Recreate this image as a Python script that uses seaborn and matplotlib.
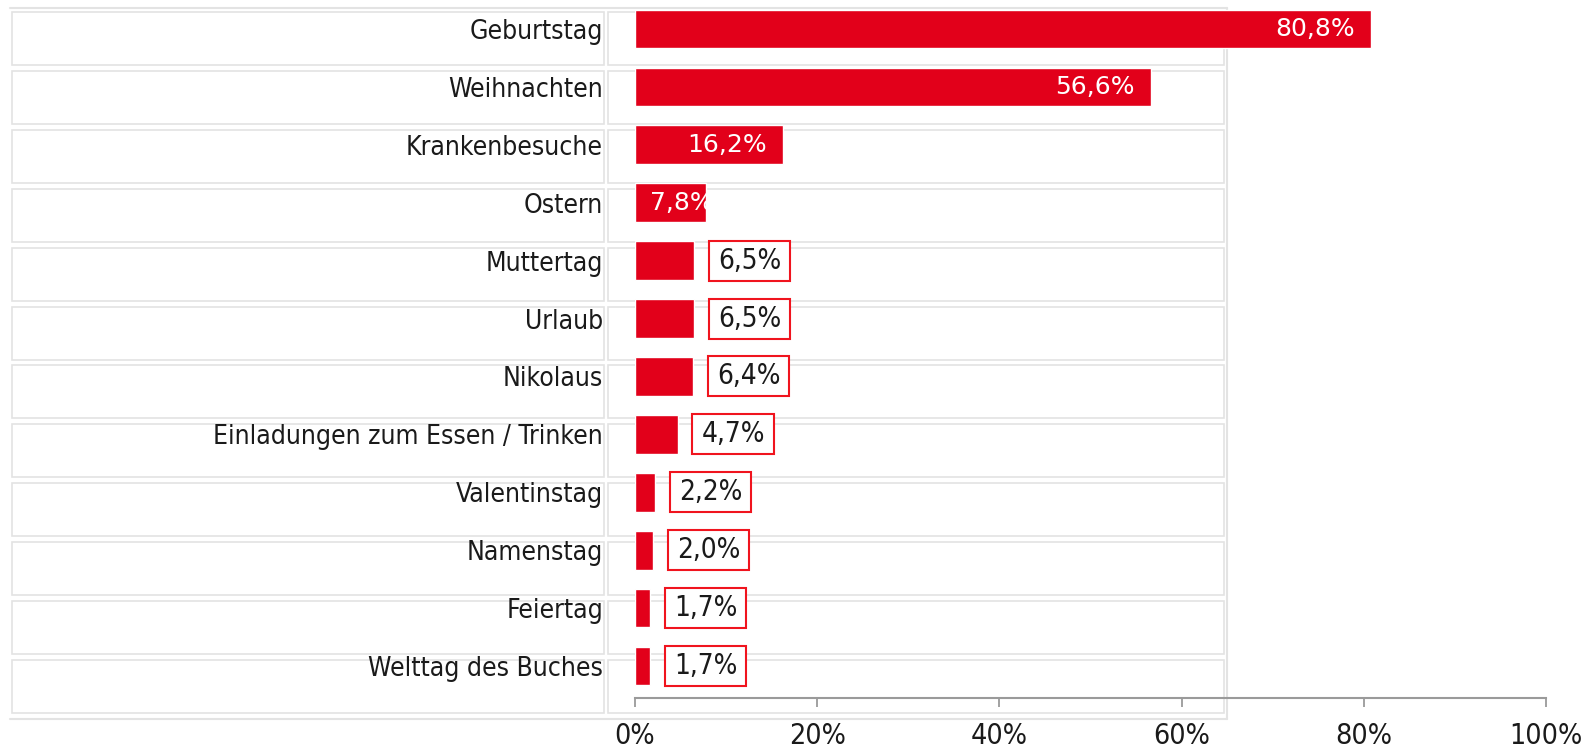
import matplotlib
matplotlib.use("Agg")
import matplotlib.pyplot as plt
from matplotlib.patches import Rectangle
import seaborn as sns

# data
categories = ["Geburtstag", "Weihnachten", "Krankenbesuche", "Ostern", "Muttertag",
              "Urlaub", "Nikolaus", "Einladungen zum Essen / Trinken", "Valentinstag",
              "Namenstag", "Feiertag", "Welttag des Buches"]
values = [80.8, 56.6, 16.2, 7.8, 6.5, 6.5, 6.4, 4.7, 2.2, 2.0, 1.7, 1.7]
value_labels = ["80,8%", "56,6%", "16,2%", "7,8%", "6,5%", "6,5%", "6,4%",
                "4,7%", "2,2%", "2,0%", "1,7%", "1,7%"]
xticks = [0, 20, 40, 60, 80, 100]
xtick_labels = ["0%", "20%", "40%", "60%", "80%", "100%"]

RED = "#e2001a"
BOX_RED = "#f0141e"
GRID = "#e3e3e3"
W, H = 1588, 751

sns.set_theme(style="white")
plt.rcParams["font.family"] = ["DejaVu Sans"]

fig = plt.figure(figsize=(W / 100, H / 100), dpi=100)

# background cells (pixel coords)
bg = fig.add_axes([0, 0, 1, 1], zorder=0)
bg.set_xlim(0, W)
bg.set_ylim(H, 0)
bg.axis("off")
for i in range(len(categories)):
    top = 12 + 58.9 * i
    bg.add_patch(Rectangle((12, top), 592, 53, fill=False, ec=GRID, lw=1.2))
    bg.add_patch(Rectangle((608, top), 616, 53, fill=False, ec=GRID, lw=1.2))
bg.plot([10, 1227], [8, 8], color=GRID, lw=1.5)
bg.plot([10, 1227], [719, 719], color=GRID, lw=1.5)
bg.plot([1227, 1227], [8, 719], color=GRID, lw=1.5)

# main axes
ax = fig.add_axes([635 / W, (H - 698) / H, (1546 - 635) / W, 698 / H], zorder=1)
ax.patch.set_alpha(0)
sns.barplot(x=values, y=categories, orient="h", color=RED, saturation=1,
            width=0.67, ax=ax)
ax.set_xlim(0, 100)
ax.set_ylim(11.554, -0.501)
ax.set_xlabel("")
ax.set_ylabel("")
for s in ["top", "right", "left"]:
    ax.spines[s].set_visible(False)
ax.spines["bottom"].set_color("#9a9a9a")
ax.spines["bottom"].set_linewidth(1.5)
ax.set_xticks(xticks)
ax.set_xticklabels(xtick_labels)
ax.tick_params(axis="x", bottom=True, direction="out", length=6.5, width=1.3,
               color="#9a9a9a", pad=11, labelsize=20.5, labelcolor="#1a1a1a")
ax.tick_params(axis="y", left=False, length=0, pad=23, labelsize=19,
               labelcolor="#1a1a1a")
for lab in ax.get_xticklabels() + ax.get_yticklabels():
    lab.set_fontstretch("condensed")

# value labels
boxed = []
for i, (v, lab) in enumerate(zip(values, value_labels)):
    if v >= 10:
        ax.annotate(lab, (v, i), xytext=(-11.5, 0), textcoords="offset points",
                    ha="right", va="center", color="white", fontsize=18)
    elif v >= 7.5:
        ax.annotate(lab, (0, i), xytext=(10.5, 0), textcoords="offset points",
                    ha="left", va="center", color="white", fontsize=18)
    else:
        t = ax.annotate(lab, (v, i), xytext=(17, 0), textcoords="offset points",
                        ha="left", va="center", color="#1a1a1a", fontsize=20,
                        fontstretch="condensed", zorder=5)
        boxed.append(t)

fig.canvas.draw()
r = fig.canvas.get_renderer()
inv = ax.transData.inverted()
for t in boxed:
    bb = t.get_window_extent(r)
    cy = (bb.y0 + bb.y1) / 2
    (x0, y0), (x1, y1) = inv.transform([(bb.x0 - 9, cy - 20), (bb.x1 + 9, cy + 20)])
    ax.add_patch(Rectangle((x0, y0), x1 - x0, y1 - y0, fill=True, fc="white",
                           ec=BOX_RED, lw=1.5, zorder=4, clip_on=False))

fig.savefig("out.png", dpi=100)
